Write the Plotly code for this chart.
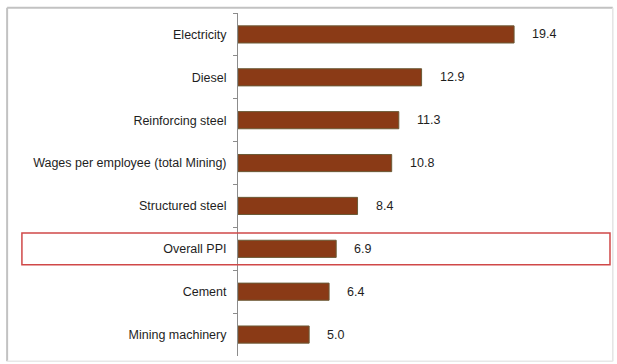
import plotly.graph_objects as go

# Year-on-year price change (%) for mining input costs
categories = [
    "Electricity",
    "Diesel",
    "Reinforcing steel",
    "Wages per employee (total Mining)",
    "Structured steel",
    "Overall PPI",
    "Cement",
    "Mining machinery",
]
values = [19.4, 12.9, 11.3, 10.8, 8.4, 6.9, 6.4, 5.0]
highlight = "Overall PPI"

BAR = "#8a3a16"
TEXT = "#1e1e1e"
FONT = "Arial, Liberation Sans, sans-serif"

fig = go.Figure(
    go.Bar(
        x=values,
        y=categories,
        orientation="h",
        width=0.4,
        marker=dict(color=BAR, line=dict(color="#6b5a36", width=1)),
        hoverinfo="skip",
    )
)

# value labels beside each bar
for cat, v in zip(categories, values):
    fig.add_annotation(
        x=v, y=cat, xref="x", yref="y",
        text=f"{v:.1f}", showarrow=False,
        xanchor="left", xshift=16,
        font=dict(family=FONT, size=12.5, color=TEXT),
    )

# highlight frame around the overall index row
idx = categories.index(highlight)
fig.add_shape(
    type="rect", xref="paper", yref="y",
    x0=-0.584, x1=1.0054, y0=idx - 0.37, y1=idx + 0.37,
    line=dict(color="#d04848", width=1.5), fillcolor="rgba(0,0,0,0)",
    layer="above",
)

# outer frame of the chart: darker top/left edges, faint right/bottom edges
fx0, fx1, fy0, fy1 = -0.624, 1.013, -0.015, 1.015
for (x0, y0, x1, y1, col, w) in [
    (fx0, fy1, fx1, fy1, "#c2c2c2", 2),
    (fx0, fy0, fx0, fy1, "#c2c2c2", 2),
    (fx1, fy0, fx1, fy1, "#e4e4e4", 1.5),
    (fx0, fy0, fx1, fy0, "#e8e8e8", 1.5),
]:
    fig.add_shape(type="line", xref="paper", yref="paper",
                  x0=x0, y0=y0, x1=x1, y1=y1, line=dict(color=col, width=w))

fig.update_layout(
    width=617, height=364,
    margin=dict(l=238, r=9, t=13, b=8),
    paper_bgcolor="white", plot_bgcolor="white",
    showlegend=False,
    font=dict(family=FONT, size=12.5, color=TEXT),
)
fig.update_xaxes(
    range=[0, 26], showgrid=False, zeroline=False,
    showticklabels=False, ticks="", showline=False,
)
fig.update_yaxes(
    categoryorder="array", categoryarray=categories,
    autorange="reversed",
    showgrid=False, zeroline=False,
    showline=True, linecolor="#8c8c8c", linewidth=1,
    ticks="outside", tickson="boundaries", ticklen=4, tickcolor="#8c8c8c",
    ticklabelstandoff=8,
    tickfont=dict(family=FONT, size=12.5, color=TEXT),
)

fig.write_html("out.html")
